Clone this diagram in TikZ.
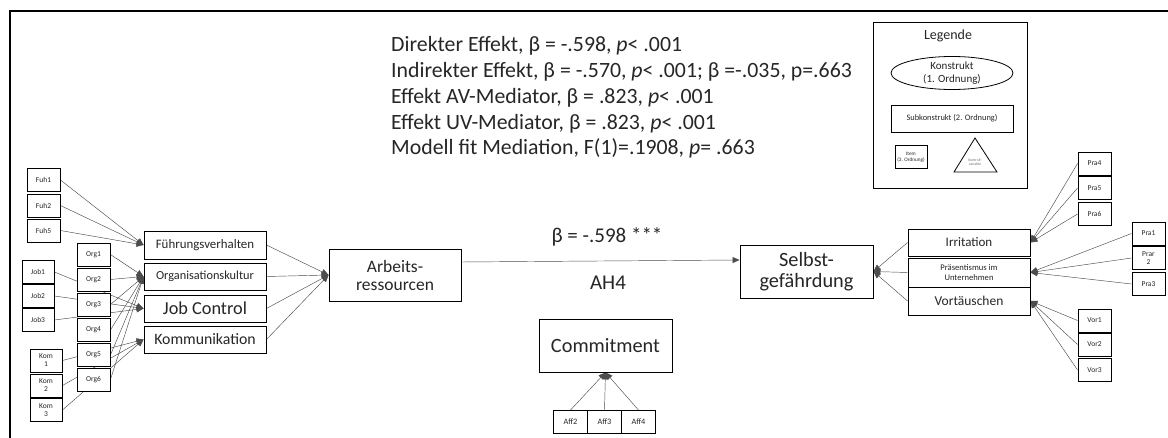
\documentclass[tikz,border=0pt]{standalone}
\usepackage{fontspec}
\setmainfont{Carlito}
\usetikzlibrary{arrows.meta,shapes.geometric,backgrounds}

\tikzset{
  box/.style={draw=black, fill=white, line width=0.9pt, inner sep=0pt, align=center, text=black!85},
  itembox/.style={box, minimum width=33pt, minimum height=23pt, font=\fontsize{7.5}{8}\selectfont},
  subbox/.style={box, minimum width=122pt, minimum height=27pt},
  bigbox/.style={box, minimum width=133pt, minimum height=53pt},
  link/.style={draw=black!70, line width=0.45pt},
  path/.style={link, -{Triangle[length=7pt,width=6pt]}},
  lbl/.style={inner sep=0pt, text=black!85, align=center},
}

\begin{document}
\begin{tikzpicture}[x=1pt,y=-1pt]
\useasboundingbox (0,0) rectangle (1168,438);

% outer frame (top and left edges)
\draw[line width=1.2pt] (10,438) -- (10,11) -- (1168,11);

% statistics block (anchored on the baseline of its last line)
\node[lbl, anchor=base west, align=left, font=\fontsize{21.8}{25.8}\selectfont] (stats) at (391,155)
  {Direkter Effekt, β = -.598, \textit{p}< .001\\
   Indirekter Effekt, β = -.570, \textit{p}< .001; β =-.035, p=.663\\
   Effekt AV-Mediator, β = .823, \textit{p}< .001\\
   Effekt UV-Mediator, β = .823, \textit{p}< .001\\
   Modell fit Mediation, F(1)=.1908, \textit{p}= .663};

% legend
\node[box, minimum width=154pt, minimum height=166pt] (legend) at (950,105) {};
\node[lbl, font=\fontsize{14}{16}\selectfont] (legtitle) at (948,36) {Legende};
\node[draw=black, line width=0.8pt, ellipse, minimum width=122pt, minimum height=33pt, inner sep=0pt,
      align=center, text=black!85, font=\fontsize{11}{12.5}\selectfont] (legkon) at (952,73)
  {Konstrukt\\(1. Ordnung)};
\node[box, minimum width=122pt, minimum height=27pt, font=\fontsize{8.4}{10}\selectfont] (legsub) at (952,118.5)
  {Subkonstrukt (2. Ordnung)};
\node[box, minimum width=32pt, minimum height=23pt, font=\fontsize{5.2}{6}\selectfont] (legitem) at (911,157)
  {Item\\(3. Ordnung)};
\draw[line width=0.8pt] (975,138) -- (997,172) -- (954,172) -- cycle;
\node[lbl, text=black!55, font=\fontsize{3.8}{4.5}\selectfont] (legctrl) at (975,162) {Kontroll-\\variable};

% measurement items, left
\node[itembox] (fuh1) at (43.5,180) {Fuh1};
\node[itembox] (fuh2) at (43.5,205.5) {Fuh2};
\node[itembox] (fuh5) at (43.5,230.5) {Fuh5};
\node[itembox, minimum width=32pt] (job1) at (38,272) {Job1};
\node[itembox, minimum width=32pt] (job2) at (38,296) {Job2};
\node[itembox, minimum width=32pt] (job3) at (38,320) {Job3};
\node[itembox, minimum width=32pt, font=\fontsize{7.5}{8}\selectfont] (kom1) at (46,360.5) {Kom\\1};
\node[itembox, minimum width=32pt, font=\fontsize{7.5}{8}\selectfont] (kom2) at (46,385.5) {Kom\\2};
\node[itembox, minimum width=32pt, font=\fontsize{7.5}{8}\selectfont] (kom3) at (46,410) {Kom\\3};
\node[itembox] (org1) at (93.5,254.5) {Org1};
\node[itembox] (org2) at (93.5,279.5) {Org2};
\node[itembox] (org3) at (93.5,304.5) {Org3};
\node[itembox] (org4) at (93.5,330) {Org4};
\node[itembox] (org5) at (93.5,355) {Org5};
\node[itembox] (org6) at (93.5,379.5) {Org6};

% sub-constructs, left
\node[subbox, minimum height=28pt, font=\fontsize{12.9}{14}\selectfont] (fuehr) at (205,245) {Führungsverhalten};
\node[subbox, font=\fontsize{12.3}{14}\selectfont] (orgk) at (205,276.5) {Organisationskultur};
\node[subbox, font=\fontsize{18.3}{20}\selectfont] (jobc) at (205,308.5) {Job Control};
\node[subbox, font=\fontsize{15.8}{18}\selectfont] (komm) at (205,339.5) {Kommunikation};

% constructs
\node[bigbox, minimum width=132pt, minimum height=52pt, font=\fontsize{17.5}{18}\selectfont] (arb) at (395,275) {Arbeits-\\ressourcen};
\node[bigbox, font=\fontsize{20.3}{21}\selectfont] (selbst) at (806.5,271.5) {Selbst-\\gefährdung};
\node[bigbox, font=\fontsize{20.3}{21}\selectfont] (commit) at (605.5,345.5) {Commitment};

% commitment items
\node[itembox, minimum width=34pt, font=\fontsize{8.3}{9}\selectfont] (aff2) at (570.5,422) {Aff2};
\node[itembox, minimum width=34pt, font=\fontsize{8.3}{9}\selectfont] (aff3) at (604.5,422) {Aff3};
\node[itembox, minimum width=34pt, font=\fontsize{8.3}{9}\selectfont] (aff4) at (638.5,422) {Aff4};

% sub-constructs, right
\node[subbox, font=\fontsize{13}{14}\selectfont] (irr) at (969,242.5) {Irritation};
\node[subbox, minimum height=29pt, font=\fontsize{8.6}{9.5}\selectfont] (praes) at (969,272.5) {Präsentismus im\\Unternehmen};
\node[subbox, minimum height=28pt, font=\fontsize{13.5}{14}\selectfont] (vort) at (969,301) {Vortäuschen};

% measurement items, right
\node[itembox] (pra4) at (1094.5,163.5) {Pra4};
\node[itembox] (pra5) at (1094.5,188) {Pra5};
\node[itembox] (pra6) at (1094.5,214) {Pra6};
\node[itembox] (pra1) at (1148.5,233.5) {Pra1};
\node[itembox, font=\fontsize{7.5}{8}\selectfont] (pra2) at (1148.5,258) {Prar\\2};
\node[itembox] (pra3) at (1148.5,284) {Pra3};
\node[itembox] (vor1) at (1094.5,320.5) {Vor1};
\node[itembox] (vor2) at (1094.5,344.5) {Vor2};
\node[itembox] (vor3) at (1094.5,370) {Vor3};

% path labels
\node[lbl, font=\fontsize{21}{22}\selectfont] (beta) at (607,237) {β = -.598 ***};
\node[lbl, font=\fontsize{21}{22}\selectfont] (ah4) at (608,283) {AH4};

\begin{pgfonlayer}{background}
  % items -> sub-constructs
  \foreach \i in {fuh1,fuh2,fuh5} \draw[path] (\i.east) -- (fuehr.west);
  \foreach \i in {org1,org2,org3,org4,org5,org6} \draw[path] (\i.east) -- (orgk.west);
  \foreach \i in {job1,job2,job3} \draw[path] (\i.east) -- (jobc.west);
  \foreach \i in {kom1,kom2,kom3} \draw[path] (\i.east) -- (komm.west);
  % sub-constructs -> Arbeitsressourcen
  \foreach \i in {fuehr,orgk,jobc,komm} \draw[path] (\i.east) -- (arb.west);
  % main path
  \draw[path] ([yshift=13pt]arb.east) -- ([yshift=11.5pt]selbst.west);
  % Commitment items
  \foreach \i in {aff2,aff3,aff4} \draw[path] (\i.north) -- (commit.south);
  % right side
  \foreach \i in {irr,praes,vort} \draw[path] (\i.west) -- (selbst.east);
  \foreach \i in {pra4,pra5,pra6} \draw[path] (\i.west) -- (irr.east);
  \foreach \i in {pra1,pra2,pra3} \draw[path] (\i.west) -- (praes.east);
  \foreach \i in {vor1,vor2,vor3} \draw[path] (\i.west) -- (vort.east);
\end{pgfonlayer}
\end{tikzpicture}
\end{document}
